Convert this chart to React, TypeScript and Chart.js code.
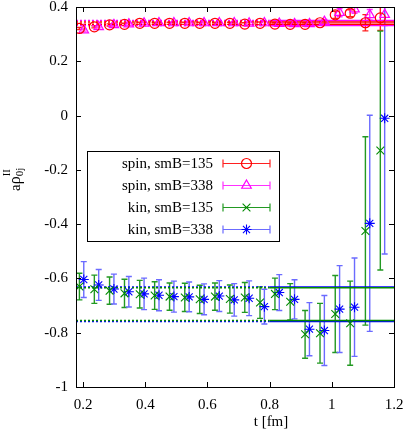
import React, { useEffect, useRef } from 'react';
import { Chart, registerables } from 'chart.js';
import { drawPoint } from 'chart.js/helpers';

Chart.register(...registerables);

// ---- data ----
const T_A = [0.188, 0.236, 0.285, 0.333, 0.382, 0.430, 0.478, 0.527, 0.575, 0.624, 0.672, 0.720, 0.769, 0.817, 0.866, 0.914, 0.962, 1.011, 1.059, 1.108, 1.156];
const T_B = [0.202, 0.250, 0.299, 0.347, 0.396, 0.444, 0.492, 0.541, 0.589, 0.638, 0.686, 0.734, 0.783, 0.831, 0.880, 0.928, 0.976, 1.025, 1.073, 1.122, 1.170];

const SPIN135 = [0.321, 0.327, 0.334, 0.336, 0.340, 0.340, 0.340, 0.340, 0.340, 0.340, 0.340, 0.337, 0.340, 0.337, 0.336, 0.336, 0.342, 0.371, 0.377, 0.342, 0.360];
const SPIN135_ERR = [0.004, 0.004, 0.004, 0.004, 0.004, 0.004, 0.004, 0.004, 0.004, 0.004, 0.004, 0.005, 0.005, 0.005, 0.005, 0.006, 0.008, 0.013, 0.013, 0.030, 0.046];
const SPIN338 = [0.315, 0.327, 0.334, 0.337, 0.340, 0.341, 0.341, 0.341, 0.341, 0.341, 0.341, 0.340, 0.341, 0.339, 0.338, 0.338, 0.346, 0.379, 0.392, 0.371, 0.372];
const SPIN338_ERR = [0.004, 0.004, 0.004, 0.004, 0.004, 0.004, 0.004, 0.004, 0.004, 0.004, 0.004, 0.005, 0.005, 0.005, 0.005, 0.006, 0.008, 0.015, 0.015, 0.020, 0.040];
const KIN135 = [-0.630, -0.640, -0.645, -0.655, -0.658, -0.663, -0.667, -0.670, -0.677, -0.667, -0.676, -0.670, -0.689, -0.657, -0.686, -0.806, -0.802, -0.731, -0.765, -0.425, -0.129];
const KIN135_ERR = [0.049, 0.052, 0.050, 0.052, 0.051, 0.051, 0.050, 0.052, 0.052, 0.050, 0.052, 0.055, 0.058, 0.058, 0.067, 0.088, 0.110, 0.142, 0.155, 0.347, 0.440];
const KIN338 = [-0.604, -0.624, -0.639, -0.649, -0.657, -0.662, -0.667, -0.668, -0.677, -0.665, -0.679, -0.673, -0.704, -0.652, -0.677, -0.787, -0.792, -0.713, -0.706, -0.397, -0.010];
const KIN338_ERR = [0.066, 0.057, 0.055, 0.056, 0.058, 0.057, 0.057, 0.055, 0.057, 0.057, 0.060, 0.064, 0.064, 0.066, 0.072, 0.098, 0.129, 0.160, 0.181, 0.398, 0.500];

// fit levels (two lines per series)
const FIT_SPIN135 = [0.345, 0.336];
const FIT_SPIN338 = [0.350, 0.332];
const FIT_KIN135 = [-0.634, -0.755];
const FIT_KIN338 = [-0.632, -0.759];
const FIT_FROM = 0.8;

const LABELS = ['spin, smB=135', 'spin, smB=338', 'kin, smB=135', 'kin, smB=338'];
const X_TICKS = [0.2, 0.4, 0.6, 0.8, 1.0, 1.2];
const Y_TICKS = [-1, -0.8, -0.6, -0.4, -0.2, 0, 0.2, 0.4];
const X_MIN = 0.177;
const X_MAX = 1.2;
const Y_MIN = -1;
const Y_MAX = 0.4;

const FONT = "'Liberation Serif', 'Times New Roman', serif";

const SERIES = [
  { label: LABELS[0], t: T_A, v: SPIN135, e: SPIN135_ERR, fit: FIT_SPIN135, color: '#ff0000', err: '#ff2020', style: 'circle', r: 5, bw: 1.2 },
  { label: LABELS[1], t: T_B, v: SPIN338, e: SPIN338_ERR, fit: FIT_SPIN338, color: '#ff00ff', err: '#ff30ff', style: 'triangle', r: 5.5, bw: 1.2 },
  { label: LABELS[2], t: T_A, v: KIN135, e: KIN135_ERR, fit: FIT_KIN135, color: '#008a00', err: '#229922', style: 'crossRot', r: 5.5, bw: 1.1 },
  { label: LABELS[3], t: T_B, v: KIN338, e: KIN338_ERR, fit: FIT_KIN338, color: '#0000ff', err: '#6b6bff', style: 'star', r: 5, bw: 1.1 },
];

const errorBarPlugin = {
  id: 'errorBars',
  beforeDatasetsDraw(chart: any) {
    const { ctx, chartArea, scales } = chart;
    const x = scales.x, y = scales.y;
    ctx.save();
    ctx.beginPath();
    ctx.rect(chartArea.left, chartArea.top, chartArea.right - chartArea.left, chartArea.bottom - chartArea.top);
    ctx.clip();
    chart.data.datasets.forEach((ds: any) => {
      if (!ds.errors) return;
      ctx.strokeStyle = ds.errorColor;
      ctx.lineWidth = 1.4;
      ds.data.forEach((p: any, i: number) => {
        const e = ds.errors[i];
        const px = x.getPixelForValue(p.x);
        const y1 = y.getPixelForValue(p.y + e);
        const y2 = y.getPixelForValue(p.y - e);
        ctx.beginPath();
        ctx.moveTo(px, y1); ctx.lineTo(px, y2);
        ctx.moveTo(px - 3, y1); ctx.lineTo(px + 3, y1);
        ctx.moveTo(px - 3, y2); ctx.lineTo(px + 3, y2);
        ctx.stroke();
      });
    });
    ctx.restore();
  },
};

const framePlugin = {
  id: 'frame',
  afterDraw(chart: any) {
    const { ctx, chartArea: a, scales } = chart;
    const x = scales.x, y = scales.y;
    ctx.save();
    ctx.strokeStyle = '#000';
    ctx.lineWidth = 1;
    ctx.strokeRect(a.left + 0.5, a.top + 0.5, a.right - a.left, a.bottom - a.top);
    ctx.beginPath();
    const tl = 5;
    X_TICKS.forEach((v) => {
      const px = Math.round(x.getPixelForValue(v)) + 0.5;
      ctx.moveTo(px, a.bottom); ctx.lineTo(px, a.bottom - tl);
      ctx.moveTo(px, a.top); ctx.lineTo(px, a.top + tl);
    });
    Y_TICKS.forEach((v) => {
      const py = Math.round(y.getPixelForValue(v)) + 0.5;
      ctx.moveTo(a.left, py); ctx.lineTo(a.left + tl, py);
      ctx.moveTo(a.right, py); ctx.lineTo(a.right - tl, py);
    });
    ctx.stroke();

    // x title
    ctx.fillStyle = '#000';
    ctx.font = `15px ${FONT}`;
    ctx.textAlign = 'center';
    ctx.textBaseline = 'alphabetic';
    ctx.fillText('t [fm]', 271, 426);

    // y title: a rho ^II _0j
    ctx.save();
    ctx.translate(20, 191);
    ctx.rotate(-Math.PI / 2);
    ctx.textAlign = 'left';
    ctx.font = `15px ${FONT}`;
    ctx.fillText('a', 0, 0);
    let w = ctx.measureText('a').width;
    ctx.font = `16px ${FONT}`;
    ctx.fillText('\u03c1', w, 0);
    w += ctx.measureText('\u03c1').width;
    ctx.font = `11px ${FONT}`;
    ctx.fillText('II', w, -10);
    ctx.fillText('0j', w, 3);
    ctx.restore();

    // legend
    const bx = 87.5, by = 151.5, bw = 192, bh = 90;
    ctx.fillStyle = '#fff';
    ctx.fillRect(bx, by, bw, bh);
    ctx.strokeStyle = '#000';
    ctx.strokeRect(bx, by, bw, bh);
    chart.data.datasets.forEach((ds: any, i: number) => {
      if (!ds.errors) return;
      const cy = 163.5 + i * 22;
      ctx.fillStyle = '#000';
      ctx.font = `15px ${FONT}`;
      ctx.textAlign = 'right';
      ctx.textBaseline = 'middle';
      ctx.fillText(ds.label, 213, cy + 1);
      const x1 = 223, x2 = 270;
      ctx.strokeStyle = ds.errorColor;
      ctx.lineWidth = 1.2;
      ctx.beginPath();
      ctx.moveTo(x1, cy); ctx.lineTo(x2, cy);
      ctx.moveTo(x1, cy - 4); ctx.lineTo(x1, cy + 4);
      ctx.moveTo(x2, cy - 4); ctx.lineTo(x2, cy + 4);
      ctx.stroke();
      ctx.strokeStyle = ds.pointBorderColor;
      ctx.fillStyle = 'rgba(0,0,0,0)';
      ctx.lineWidth = ds.pointBorderWidth;
      drawPoint(ctx, { pointStyle: ds.pointStyle, radius: ds.pointRadius, borderWidth: ds.pointBorderWidth, rotation: 0 } as any, (x1 + x2) / 2, cy);
    });
    ctx.restore();
  },
};

export default function App() {
  const ref = useRef<HTMLCanvasElement>(null);
  useEffect(() => {
    if (!ref.current) return;
    const datasets: any[] = [];
    SERIES.forEach((s) => {
      datasets.push({
        label: s.label,
        data: s.t.map((t, i) => ({ x: t, y: s.v[i] })),
        errors: s.e,
        errorColor: s.err,
        showLine: false,
        pointStyle: s.style,
        pointRadius: s.r,
        pointHoverRadius: s.r,
        pointBorderColor: s.color,
        pointBackgroundColor: 'rgba(0,0,0,0)',
        pointBorderWidth: s.bw,
        borderColor: s.color,
      });
    });
    SERIES.forEach((s) => {
      s.fit.forEach((f) => {
        datasets.push({
          label: '',
          data: [{ x: X_MIN, y: f }, { x: FIT_FROM, y: f }],
          showLine: true,
          pointRadius: 0,
          borderColor: s.color,
          borderWidth: 1.5,
          borderDash: [2, 2],
        });
        datasets.push({
          label: '',
          data: [{ x: FIT_FROM, y: f }, { x: X_MAX, y: f }],
          showLine: true,
          pointRadius: 0,
          borderColor: s.color,
          borderWidth: 1.5,
        });
      });
    });
    const tickFont = { family: FONT, size: 15 };
    const fmt = (v: any) => String(Math.round(Number(v) * 10) / 10);
    const chart = new Chart(ref.current, {
      type: 'scatter',
      data: { datasets },
      plugins: [errorBarPlugin, framePlugin],
      options: {
        animation: false,
        responsive: false,
        events: [],
        layout: { padding: { left: 0, top: 7, right: 13, bottom: 0 } },
        plugins: { legend: { display: false }, tooltip: { enabled: false }, title: { display: false } },
        scales: {
          x: {
            type: 'linear',
            min: X_MIN,
            max: X_MAX,
            grid: { display: false, drawTicks: false },
            border: { display: false },
            ticks: { font: tickFont, color: '#000', padding: 9, autoSkip: false, maxRotation: 0, callback: fmt },
            afterBuildTicks: (sc: any) => { sc.ticks = X_TICKS.map((v) => ({ value: v })); },
            afterFit: (sc: any) => { sc.height = 49; sc.paddingLeft = 0; sc.paddingRight = 0; },
          },
          y: {
            type: 'linear',
            min: Y_MIN,
            max: Y_MAX,
            grid: { display: false, drawTicks: false },
            border: { display: false },
            ticks: { font: tickFont, color: '#000', padding: 8, autoSkip: false, callback: fmt },
            afterBuildTicks: (sc: any) => { sc.ticks = Y_TICKS.map((v) => ({ value: v })); },
            afterFit: (sc: any) => { sc.width = 76; sc.paddingTop = 0; sc.paddingBottom = 0; },
          },
        },
      } as any,
    });
    return () => chart.destroy();
  }, []);
  return (
    <div style={{ position: 'fixed', left: 0, top: 0, width: 407, height: 436, background: '#fff' }}>
      <canvas ref={ref} width={407} height={436} style={{ display: 'block' }} />
    </div>
  );
}
